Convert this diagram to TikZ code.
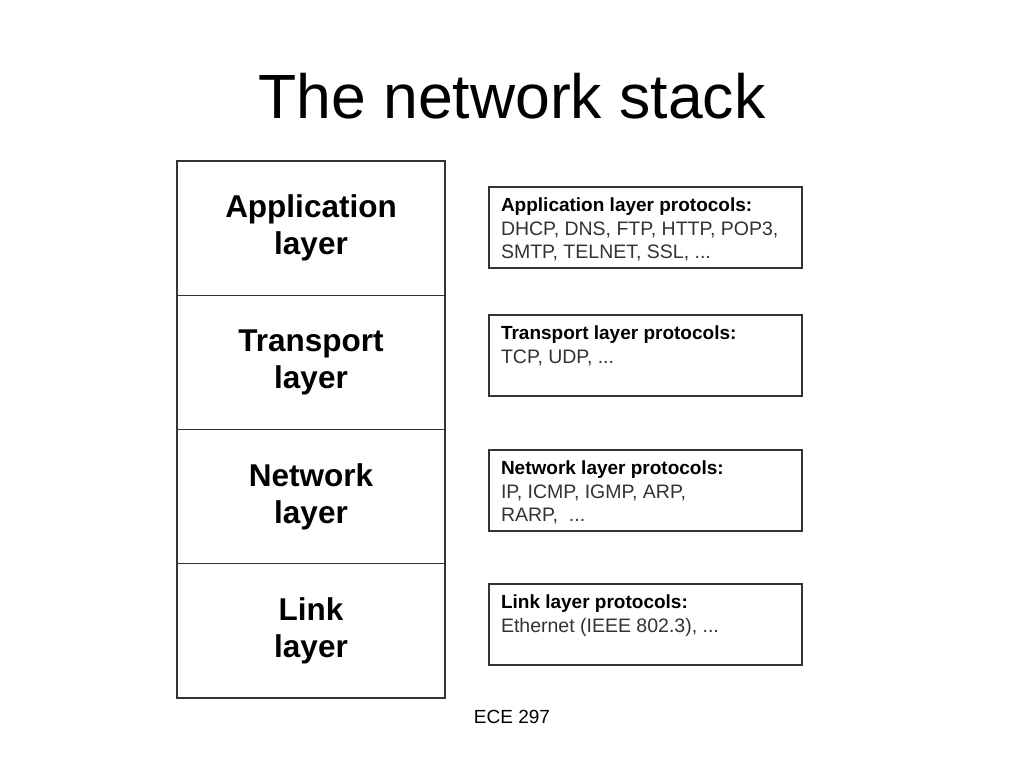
\documentclass[tikz,border=0pt]{standalone}
\usepackage{fontspec}
\setmainfont{Liberation Sans}
\usetikzlibrary{positioning}

\tikzset{
  layerbox/.style={draw=black!80, line width=1.2pt, outer sep=0pt,
    minimum width=268pt, minimum height=134.25pt, align=center,
    font=\fontsize{31.5}{37}\selectfont\bfseries},
  protobox/.style={draw=black!80, line width=1.2pt, outer sep=0pt,
    anchor=north west, inner xsep=12pt, inner ysep=11pt, align=left}
}
\newcommand{\protolist}[2]{\parbox[c][59pt][t]{289pt}{%
  \fontsize{19}{23.5}\selectfont\textbf{#1}\\
  \fontsize{19.5}{23.5}\selectfont\color{black!80}#2}}

\begin{document}
\begin{tikzpicture}[x=1pt,y=-1pt]
  \useasboundingbox[fill=white] (0,0) rectangle (1024,768);

  % title
  \node[anchor=base, inner sep=0pt, font=\fontsize{62.5}{70}\selectfont] (title) at (512,118) {The network stack};

  % the stack of layers
  \node[layerbox, anchor=north west] (app) at (177,161) {Application\\layer};
  \node[layerbox, below=0pt of app] (trans) {Transport\\layer};
  \node[layerbox, below=0pt of trans] (net) {Network\\layer};
  \node[layerbox, below=0pt of net] (link) {Link\\layer};

  % protocols of each layer
  \node[protobox] (appP) at (489,187)
    {\protolist{Application layer protocols:}{DHCP, DNS, FTP, HTTP, POP3,\\SMTP, TELNET, SSL, ...}};
  \node[protobox] (transP) at (489,315)
    {\protolist{Transport layer protocols:}{TCP, UDP, ...}};
  \node[protobox] (netP) at (489,450)
    {\protolist{Network layer protocols:}{IP, ICMP, IGMP, ARP,\\RARP,~ ...}};
  \node[protobox] (linkP) at (489,584)
    {\protolist{Link layer protocols:}{Ethernet (IEEE 802.3), ...}};

  % footer
  \node[anchor=base, inner sep=0pt, font=\fontsize{19}{22}\selectfont] (foot) at (512,723) {ECE 297};
\end{tikzpicture}
\end{document}
